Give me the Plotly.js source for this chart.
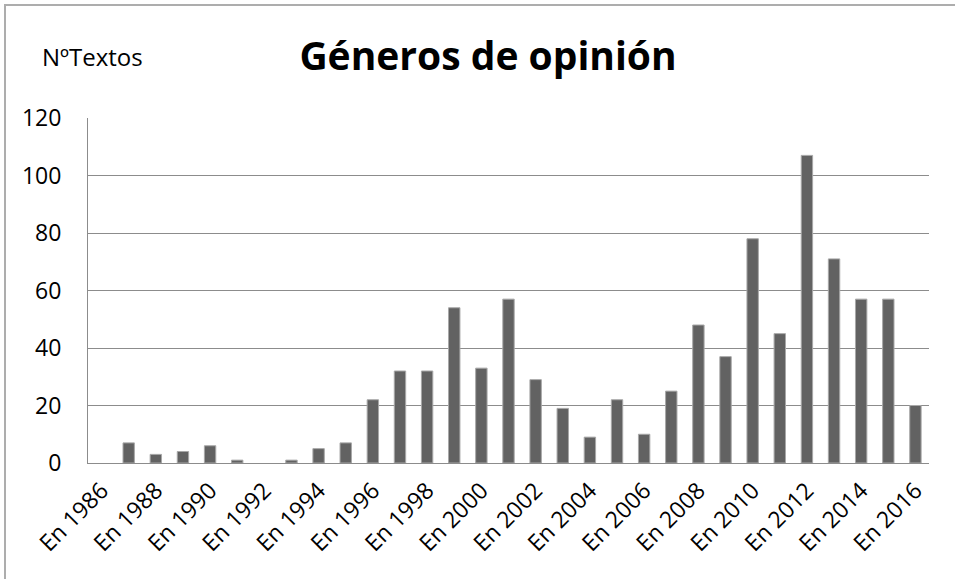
<!DOCTYPE html>
<html>
<head>
<meta charset="utf-8">
<script src="https://cdn.plot.ly/plotly-3.0.1.min.js"></script>
<style>html,body{margin:0;padding:0;background:#fff;}#chart{width:955px;height:579px;}</style>
</head>
<body>
<div id="chart"></div>
<script>
const years = ["En 1986","En 1987","En 1988","En 1989","En 1990","En 1991","En 1992","En 1993","En 1994","En 1995","En 1996","En 1997","En 1998","En 1999","En 2000","En 2001","En 2002","En 2003","En 2004","En 2005","En 2006","En 2007","En 2008","En 2009","En 2010","En 2011","En 2012","En 2013","En 2014","En 2015","En 2016"];
const textos = [0,7,3,4,6,1,0,1,5,7,22,32,32,54,33,57,29,19,9,22,10,25,48,37,78,45,107,71,57,57,20];
const tickLabels = ["En 1986","En 1988","En 1990","En 1992","En 1994","En 1996","En 1998","En 2000","En 2002","En 2004","En 2006","En 2008","En 2010","En 2012","En 2014","En 2016"];
const yTicks = [0,20,40,60,80,100,120];

const W = 955, H = 579, L = 88, R = 26, T = 118, B = 116;
const pw = W - L - R, ph = H - T - B;
const px = v => (v - L) / pw;
const py = v => (H - B - v) / ph;
const FAM = '"Open Sans", sans-serif';

const trace = {
  type: 'bar', x: years, y: textos,
  marker: {color: '#626262', line: {color: '#a8a8a8', width: textos.map(v => v > 0 ? 1 : 0)}},
  hoverinfo: 'x+y'
};
const layout = {
  width: W, height: H,
  margin: {l: L, r: R, t: T, b: B},
  paper_bgcolor: '#fff', plot_bgcolor: '#fff',
  bargap: 0.58,
  showlegend: false,
  font: {family: FAM, color: '#000'},
  title: {text: '<b>Géneros de opinión</b>', font: {family: FAM, size: 39, color: '#000'},
          x: 488/W, xref: 'container', xanchor: 'center', y: 1 - 56/H, yref: 'container', yanchor: 'middle'},
  xaxis: {type: 'category', tickmode: 'array', tickvals: tickLabels, ticktext: tickLabels,
          tickangle: -45, tickfont: {size: 23, family: FAM, color: '#000'},
          showgrid: false, showline: true, linecolor: '#8c8c8c', linewidth: 1, ticks: '',
          ticklabelstandoff: 4, zeroline: false},
  yaxis: {range: [0, 120], tickvals: yTicks, tickfont: {size: 23, family: FAM, color: '#000'},
          showgrid: true, gridcolor: '#8c8c8c', gridwidth: 1, showline: true, linecolor: '#8c8c8c', linewidth: 1,
          ticks: '', ticklabelstandoff: 21, zeroline: false},
  annotations: [{text: 'NºTextos', xref: 'paper', yref: 'paper', x: px(40), y: py(56), xanchor: 'left', yanchor: 'middle',
                 showarrow: false, font: {size: 24, family: FAM, color: '#000'}}],
  shapes: [{type: 'rect', xref: 'paper', yref: 'paper', x0: px(5), x1: px(965), y0: py(5), y1: py(600),
            line: {color: '#adadad', width: 2}, fillcolor: 'rgba(0,0,0,0)', layer: 'below'}]
};
Plotly.newPlot('chart', [trace], layout, {displayModeBar: false, staticPlot: true});
</script>
</body>
</html>
